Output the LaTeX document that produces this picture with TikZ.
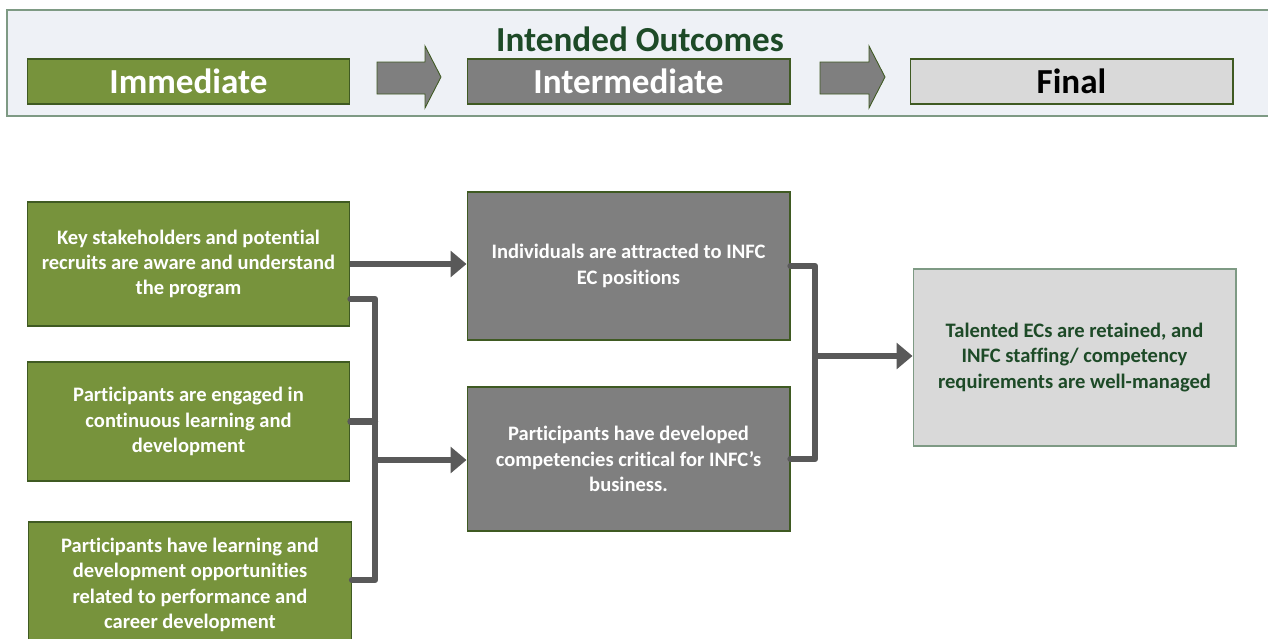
\documentclass[tikz,border=0pt]{standalone}
\usepackage{fontspec}
\setmainfont{Carlito}[Ligatures=NoCommon]
\usetikzlibrary{arrows.meta,positioning}
\definecolor{outgreen}{HTML}{77933C}
\definecolor{edgegreen}{HTML}{3F5A22}
\definecolor{midgray}{HTML}{7F7F7F}
\definecolor{lightgray}{HTML}{D9D9D9}
\definecolor{linkgray}{HTML}{595959}
\definecolor{bandfill}{HTML}{EEF1F6}
\definecolor{bandline}{HTML}{7E9A84}
\definecolor{titlegreen}{HTML}{1D4A27}
\tikzset{
    headbox/.style={draw=edgegreen, line width=0.6pt, minimum width=6.46cm, minimum height=0.9cm, inner sep=0pt,
            font=\bfseries\fontsize{20}{24}\selectfont},
    outbox/.style={draw=edgegreen, line width=0.6pt, minimum width=6.46cm, inner sep=0pt, align=center},
    blockarrow/.style={draw=edgegreen, fill=midgray, line width=0.5pt, line join=miter},
    link/.style={draw=linkgray, line width=3.6pt, line cap=round, line join=round},
    linkarrow/.style={link, line cap=butt, -{Triangle[length=9pt, width=14.5pt]}},
}
\begin{document}
\begin{tikzpicture}[x=0.02cm, y=-0.02cm, font=\bfseries\fontsize{11.7}{14.4}\selectfont]
    \useasboundingbox (0,0) rectangle (1268,639);
    %draw outcome band
    \draw[draw=bandline, fill=bandfill, line width=0.8pt] (7,10) rectangle (1290,116);
    \node[text=titlegreen, font=\bfseries\fontsize{20}{24}\selectfont] (title) at (640,39) {Intended Outcomes};
    \node[headbox, fill=outgreen, text=white] (himm) at (188.5,81.5) {Immediate};
    \node[headbox, fill=midgray, text=white] (hint) at (628.5,81.5) {Intermediate};
    \node[headbox, fill=lightgray, text=black] (hfin) at (1071.5,81.5) {Final};
    %draw block arrows between the stages
    \draw[blockarrow] (377,62) -- (425,62) -- (425,46) -- (441,77) -- (425,108) -- (425,94) -- (377,94) -- cycle;
    \draw[blockarrow] (820,62) -- (869,62) -- (869,46) -- (885,77) -- (869,108) -- (869,94) -- (820,94) -- cycle;
    %draw immediate outcomes
    \node[outbox, fill=outgreen, text=white, minimum height=2.48cm] (k1) at (188.5,264)
        {Key stakeholders and potential\\recruits are aware and understand\\the program};
    \node[outbox, fill=outgreen, text=white, minimum height=2.38cm] (k2) at (188.5,421.5)
        {Participants are engaged in\\continuous learning and\\development};
    \node[outbox, fill=outgreen, text=white, minimum height=2.52cm] (k3) at (190,585)
        {Participants have learning and\\development opportunities\\related to performance and\\career development};
    %draw intermediate outcomes
    \node[outbox, fill=midgray, text=white, minimum height=2.96cm] (g1) at (628.5,266)
        {Individuals are attracted to INFC\\EC positions};
    \node[outbox, fill=midgray, text=white, minimum height=2.88cm] (g2) at (628.5,459)
        {Participants have developed\\competencies critical for INFC’s\\business.};
    %draw final outcome
    \node[outbox, draw=bandline, fill=lightgray, text=titlegreen, minimum height=3.54cm] (f1) at (1074.5,357.5)
        {Talented ECs are retained, and\\INFC staffing/ competency\\requirements are well-managed};
    %draw connectors
    \coordinate (kbus) at (375,460);
    \coordinate (gbus) at (815,356);
    \draw[linkarrow] (k1.east) -- (k1.east -| g1.west);
    \draw[link] ([yshift=-0.7cm]k1.east) -| (kbus) |- ([yshift=0.1cm]k3.east);
    \draw[link] (k2.east) -- (k2.east -| kbus);
    \draw[linkarrow] (kbus) -- (kbus -| g2.west);
    \draw[link] (g1.east) -| (gbus) |- (g2.east);
    \draw[linkarrow] (gbus) -- (gbus -| f1.west);
\end{tikzpicture}
\end{document}
